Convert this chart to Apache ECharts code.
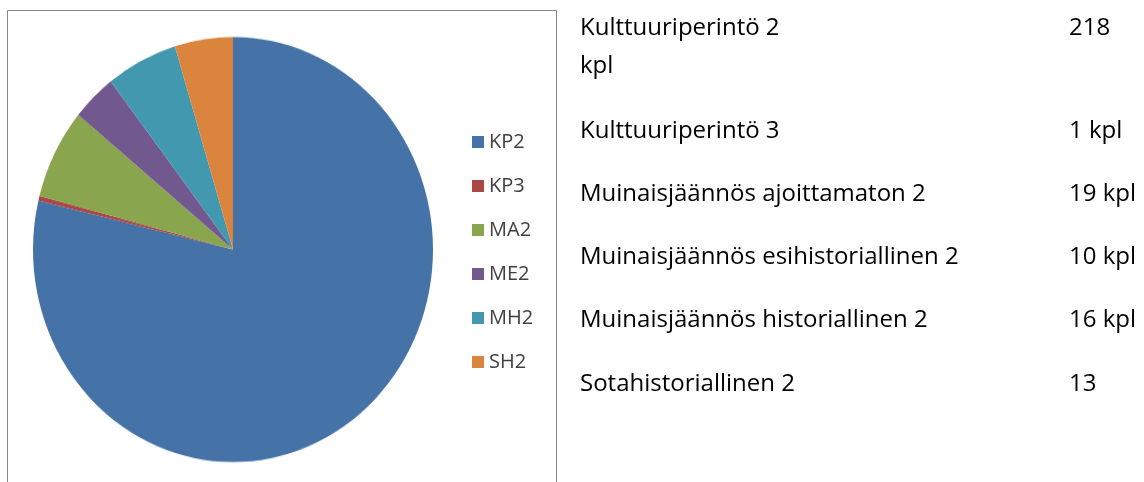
<!DOCTYPE html>
<html>
<head>
<meta charset="utf-8">
<script src="https://cdn.jsdelivr.net/npm/echarts@6/dist/echarts.min.js"></script>
<style>
html,body{margin:0;padding:0;background:#fff;}
#wrap{position:relative;width:1144px;height:482px;overflow:hidden;}
#pie{position:absolute;left:0;top:0;width:1144px;height:482px;transform-origin:233px 249.5px;transform:scaleY(1.0625);}
#chart{position:absolute;left:0;top:0;width:1144px;height:482px;}
</style>
</head>
<body>
<div id="wrap">
<div id="pie"></div>
<div id="chart"></div>
</div>
<script>
var categories = ['KP2', 'KP3', 'MA2', 'ME2', 'MH2', 'SH2'];
var values = [218, 1, 19, 10, 16, 13];
var colors = ['#4572A7', '#AA4643', '#89A54E', '#71588F', '#4198AF', '#DB843D'];
var tableNames = ['Kulttuuriperintö 2', 'Kulttuuriperintö 3', 'Muinaisjäännös ajoittamaton 2',
  'Muinaisjäännös esihistoriallinen 2', 'Muinaisjäännös historiallinen 2', 'Sotahistoriallinen 2'];
var tableAmounts = ['218', '1 kpl', '19 kpl', '10 kpl', '16 kpl', '13'];

var font = '"Open Sans", Lato, sans-serif';

// Pie (own instance so it can be stretched vertically like the reference)
var pieChart = echarts.init(document.getElementById('pie'), null, {renderer: 'canvas'});
pieChart.setOption({
  animation: false,
  color: colors,
  series: [{
    type: 'pie',
    center: [233, 249.5],
    radius: 200,
    startAngle: 90,
    clockwise: true,
    silent: true,
    label: {show: false},
    labelLine: {show: false},
    emphasis: {disabled: true},
    itemStyle: {borderWidth: 0},
    data: categories.map(function (c, i) { return {name: c, value: values[i]}; })
  }]
});

// Frame, legend and side table
var chart = echarts.init(document.getElementById('chart'), null, {renderer: 'canvas'});
var graphics = [{
  type: 'rect',
  shape: {x: 7.5, y: 10.5, width: 549, height: 500},
  style: {fill: 'none', stroke: '#868686', lineWidth: 1}
}];
var rowY = [28, 131, 194, 257, 320, 384];
tableNames.forEach(function (n, i) {
  graphics.push({type: 'text', x: 580, y: rowY[i],
    style: {text: n, font: '24px ' + font, fill: '#000', verticalAlign: 'middle'}});
  graphics.push({type: 'text', x: 1069, y: rowY[i],
    style: {text: tableAmounts[i], font: '24px ' + font, fill: '#000', verticalAlign: 'middle'}});
});
graphics.push({type: 'text', x: 580, y: 66,
  style: {text: 'kpl', font: '24px ' + font, fill: '#000', verticalAlign: 'middle'}});

chart.setOption({
  animation: false,
  color: colors,
  legend: {
    orient: 'vertical',
    left: 467,
    top: 127,
    itemWidth: 12,
    itemHeight: 12,
    itemGap: 24,
    icon: 'rect',
    data: categories,
    textStyle: {fontFamily: font, fontSize: 20, lineHeight: 20, color: '#404040'}
  },
  graphic: graphics,
  series: [{
    type: 'pie',
    center: [-500, -500],
    radius: 1,
    silent: true,
    label: {show: false},
    labelLine: {show: false},
    data: categories.map(function (c, i) { return {name: c, value: values[i]}; })
  }]
});
</script>
</body>
</html>
